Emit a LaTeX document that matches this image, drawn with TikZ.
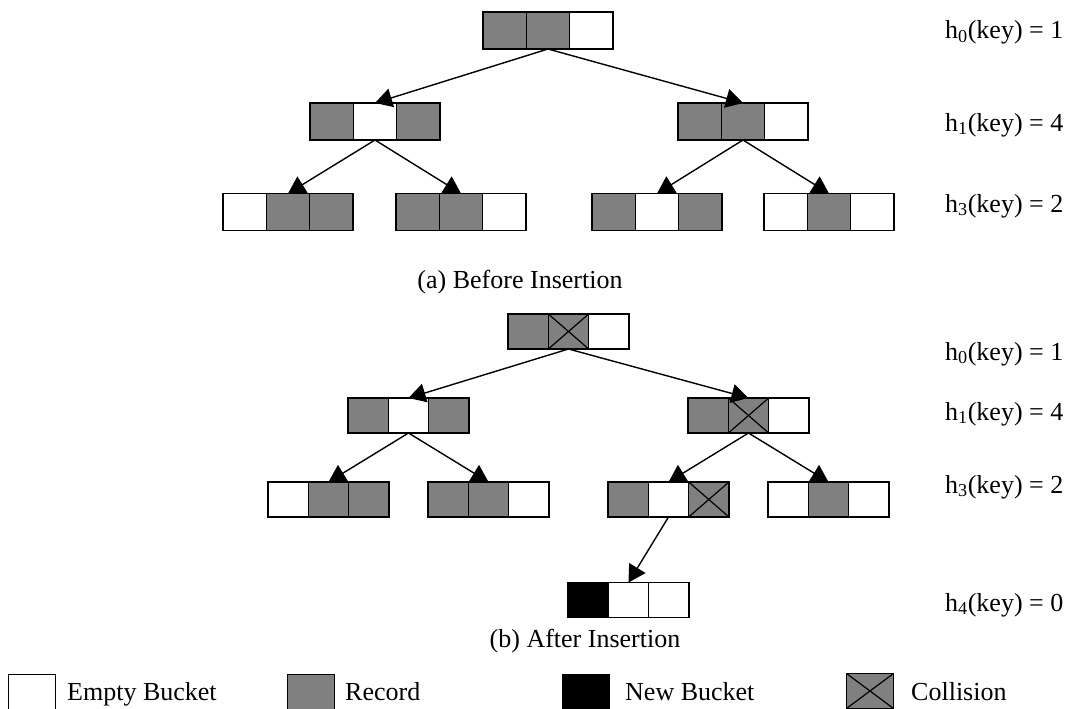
\documentclass[tikz,border=0pt]{standalone}
\usepackage{fontspec}
\setmainfont{Liberation Serif}
\usetikzlibrary{arrows.meta}
\definecolor{recgray}{RGB}{128,128,128}
\tikzset{
  cellA/.style={draw, line width=1.4pt, minimum width=43.3pt, minimum height=37pt, inner sep=0pt, outer sep=0pt},
  cellB/.style={draw, line width=1.4pt, minimum width=40.3pt, minimum height=35pt, inner sep=0pt, outer sep=0pt},
  cellL/.style={draw, line width=1.4pt, minimum width=47pt, minimum height=35pt, inner sep=0pt, outer sep=0pt},
  stE/.style={fill=white},
  stR/.style={fill=recgray},
  stN/.style={fill=black},
  stX/.style={fill=recgray, path picture={\draw[line width=1.2pt] (path picture bounding box.north west) -- (path picture bounding box.south east) (path picture bounding box.south west) -- (path picture bounding box.north east);}},
  link/.style={line width=1.4pt, -{Triangle[length=17pt,width=19pt]}},
  lbl/.style={anchor=base west, inner sep=0pt, font=\fontsize{26}{30}\selectfont},
  captxt/.style={anchor=base, inner sep=0pt, font=\fontsize{26}{30}\selectfont},
}
\newcommand\bkt[7]{%
  \node[#4,#6] (#1-2) at (#2,#3) {};
  \node[#4,#5,anchor=east] (#1-1) at (#1-2.west) {};
  \node[#4,#7,anchor=west] (#1-3) at (#1-2.east) {};
}
\begin{document}
\begin{tikzpicture}[x=1pt,y=-1pt]
\useasboundingbox (0,0) rectangle (1068,709);
% ---------- (a) Before Insertion ----------
\bkt{a0}{548}{30.5}{cellA}{stR}{stR}{stE}
\bkt{a1l}{375}{121.5}{cellA}{stR}{stE}{stR}
\bkt{a1r}{743}{121.5}{cellA}{stR}{stR}{stE}
\bkt{a2a}{288}{212}{cellA}{stE}{stR}{stR}
\bkt{a2b}{461}{212}{cellA}{stR}{stR}{stE}
\bkt{a2c}{657}{212}{cellA}{stR}{stE}{stR}
\bkt{a2d}{829}{212}{cellA}{stE}{stR}{stE}
\draw[link] (a0-2.south) -- (a1l-2.north);
\draw[link] (a0-2.south) -- (a1r-2.north);
\draw[link] (a1l-2.south) -- (a2a-2.north);
\draw[link] (a1l-2.south) -- (a2b-2.north);
\draw[link] (a1r-2.south) -- (a2c-2.north);
\draw[link] (a1r-2.south) -- (a2d-2.north);
\node[lbl] (la0) at (945,39) {h\textsubscript{0}(key) = 1};
\node[lbl] (la1) at (945,131) {h\textsubscript{1}(key) = 4};
\node[lbl] (la3) at (945,212) {h\textsubscript{3}(key) = 2};
\node[captxt] (capa) at (520,288) {(a) Before Insertion};
% ---------- (b) After Insertion ----------
\bkt{b0}{568.5}{331.5}{cellB}{stR}{stX}{stE}
\bkt{b1l}{408.5}{415.5}{cellB}{stR}{stE}{stR}
\bkt{b1r}{748.5}{415.5}{cellB}{stR}{stX}{stE}
\bkt{b2a}{328.5}{499.5}{cellB}{stE}{stR}{stR}
\bkt{b2b}{488.5}{499.5}{cellB}{stR}{stR}{stE}
\bkt{b2c}{668.5}{499.5}{cellB}{stR}{stE}{stX}
\bkt{b2d}{828.5}{499.5}{cellB}{stE}{stR}{stE}
\bkt{b3}{628.5}{600}{cellB}{stN}{stE}{stE}
\draw[link] (b0-2.south) -- (b1l-2.north);
\draw[link] (b0-2.south) -- (b1r-2.north);
\draw[link] (b1l-2.south) -- (b2a-2.north);
\draw[link] (b1l-2.south) -- (b2b-2.north);
\draw[link] (b1r-2.south) -- (b2c-2.north);
\draw[link] (b1r-2.south) -- (b2d-2.north);
\draw[link] (b2c-2.south) -- (b3-2.north);
\node[lbl] (lb0) at (945,360) {h\textsubscript{0}(key) = 1};
\node[lbl] (lb1) at (945,420) {h\textsubscript{1}(key) = 4};
\node[lbl] (lb3) at (945,493) {h\textsubscript{3}(key) = 2};
\node[lbl] (lb4) at (945,611) {h\textsubscript{4}(key) = 0};
\node[captxt] (capb) at (585,647) {(b) After Insertion};
% ---------- legend ----------
\node[cellL,stE] (lgE) at (32,692) {};
\node[lbl] (lgEt) at (67,700) {Empty Bucket};
\node[cellL,stR] (lgR) at (311,692) {};
\node[lbl] (lgRt) at (345,700) {Record};
\node[cellL,stN] (lgN) at (586,692) {};
\node[lbl] (lgNt) at (625,700) {New Bucket};
\node[cellL,stX] (lgX) at (870,691) {};
\node[lbl] (lgXt) at (911,700) {Collision};
\end{tikzpicture}
\end{document}
